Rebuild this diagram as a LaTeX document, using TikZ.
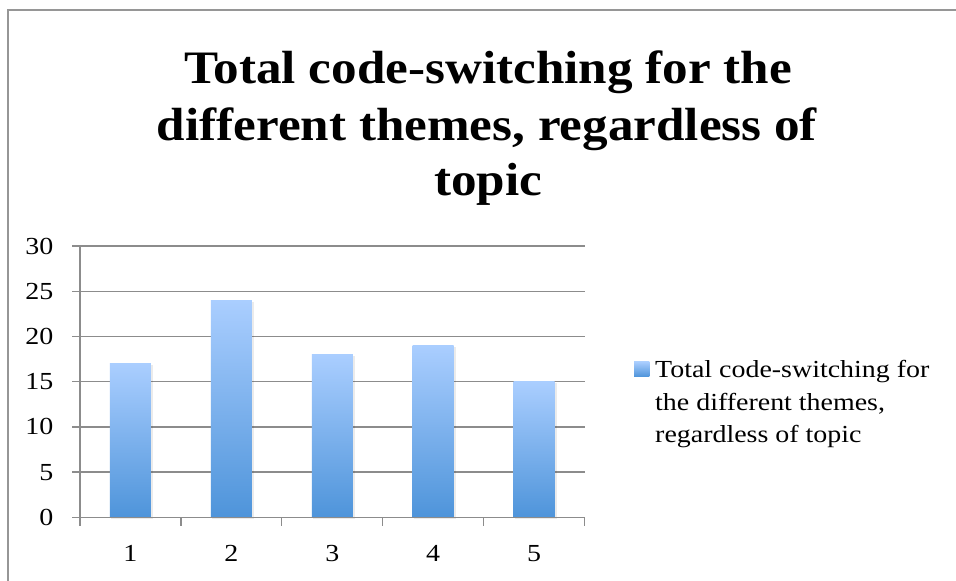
\documentclass[tikz,border=0pt]{standalone}
\usepackage{fontspec}
\setmainfont{Liberation Serif}
\newfontfamily\titlefont{Liberation Serif}[FakeStretch=1.1]
\newfontfamily\labelfont{Liberation Serif}[FakeStretch=1.14]
\definecolor{frameGray}{HTML}{969696}
\definecolor{gridGray}{HTML}{8C8C8C}
\definecolor{barTop}{HTML}{AACEFF}
\definecolor{barBot}{HTML}{4E94DA}
\tikzset{
  gridline/.style={draw=gridGray, line width=1.3pt},
  axisline/.style={draw=gridGray, line width=1.3pt},
  ylab/.style={anchor=base east, inner sep=0pt, font=\labelfont\fontsize{24.5}{28}\selectfont},
  xlab/.style={anchor=base, inner sep=0pt, font=\labelfont\fontsize{24.5}{28}\selectfont},
  titleline/.style={anchor=base, inner sep=0pt, font=\titlefont\fontsize{46.5}{56}\selectfont\bfseries},
  legline/.style={anchor=base west, inner sep=0pt, font=\labelfont\fontsize{24.5}{32}\selectfont},
  barfill/.style={top color=barTop, bottom color=barBot},
  barshadow/.style={fill=black, opacity=0.08}
}
\begin{document}
\begin{tikzpicture}[x=1pt, y=-1pt]
  \useasboundingbox (0,0) rectangle (956,581);
  \fill[white] (0,0) rectangle (956,581);

  % chart frame (only top and left edges fall inside the page)
  \draw[draw=frameGray, line width=2pt] (7.5,600) -- (7.5,10) -- (970,10);

  % title
  \node[titleline] (title1) at (488,83)  {Total code-switching for the};
  \node[titleline] (title2) at (487,140) {different themes, regardless of};
  \node[titleline] (title3) at (488,195) {topic};

  % plot geometry: y = 0 at 517.3, 9.04 px per unit; categories 100.9 wide from x = 80
  \foreach \v in {5,10,...,30} {
    \draw[gridline] (72,{517.3-9.04*\v}) -- (584.5,{517.3-9.04*\v});
  }
  \foreach \v in {0,5,...,30} {
    \node[ylab] (ylab\v) at (53.5,{517.3-9.04*\v+8}) {\v};
  }

  % bars with a faint shadow on the right
  \foreach \i/\val in {1/17,2/24,3/18,4/19,5/15} {
    \pgfmathsetmacro{\cx}{80+100.9*(\i-0.5)}
    \pgfmathsetmacro{\ty}{517.3-9.04*\val}
    \fill[barshadow] (\cx-19.5,\ty+1.5) rectangle (\cx+22.5,518.5);
    \shade[barfill] (\cx-20.5,\ty) rectangle (\cx+20.5,517.3);
    \node[xlab] (xlab\i) at (\cx,561) {\i};
  }

  % axes and tick marks
  \draw[axisline] (72,517.3) -- (584.5,517.3);
  \draw[axisline] (80,246) -- (80,526);
  \foreach \i in {1,...,5} {
    \draw[axisline] ({80+100.9*\i},517.3) -- ({80+100.9*\i},526);
  }

  % legend
  \shade[barfill] (634,361.7) rectangle (649.3,376.7);
  \node[legline] (leg1) at (655,377) {Total code-switching for};
  \node[legline] (leg2) at (655,410) {the different themes,};
  \node[legline] (leg3) at (655,442) {regardless of topic};
\end{tikzpicture}
\end{document}
